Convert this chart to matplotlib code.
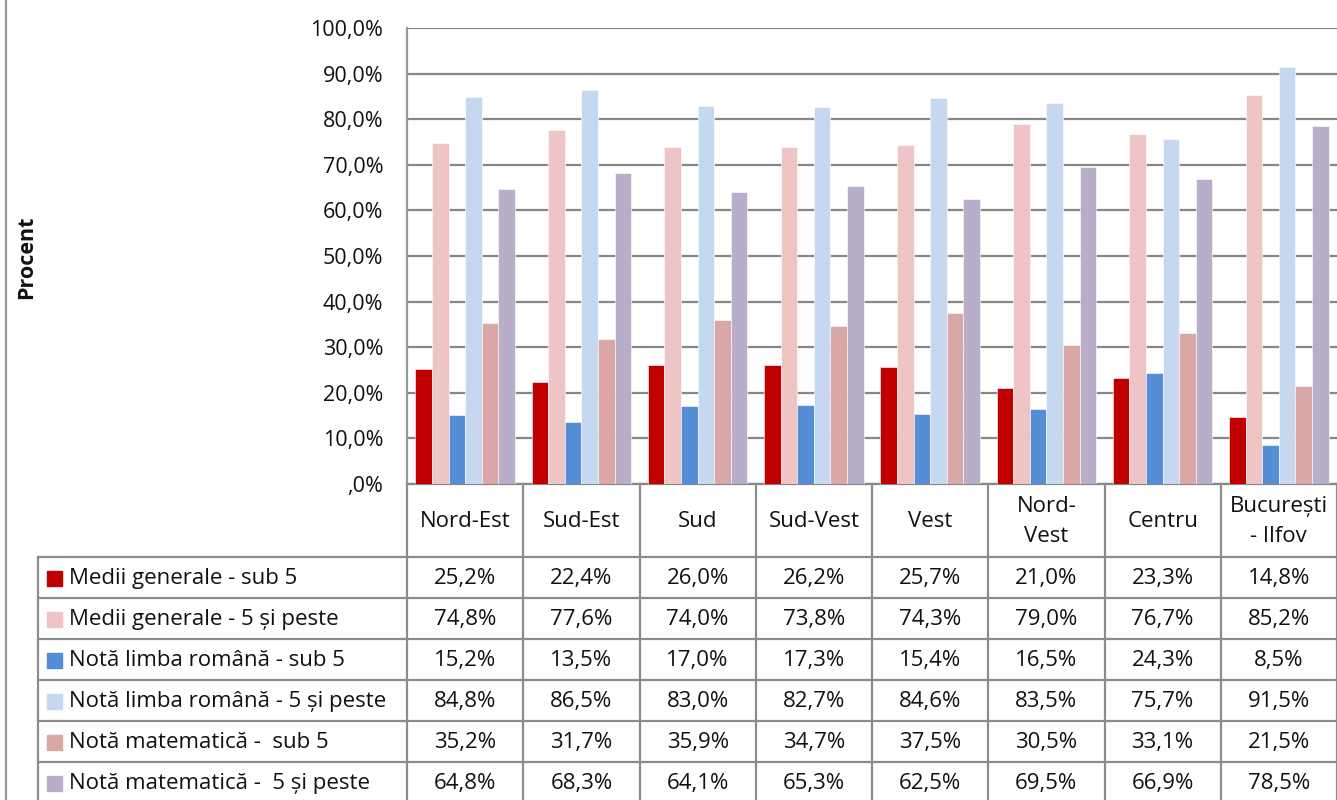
import matplotlib
matplotlib.use("Agg")
import matplotlib.pyplot as plt
from matplotlib.lines import Line2D
from matplotlib.patches import Rectangle
import numpy as np

plt.rcParams['font.family'] = ['Open Sans', 'DejaVu Sans']

categories = ["Nord-Est", "Sud-Est", "Sud", "Sud-Vest", "Vest", "Nord-\nVest", "Centru", "București\n- Ilfov"]
series_names = ["Medii generale - sub 5", "Medii generale - 5 și peste",
                "Notă limba română - sub 5", "Notă limba română - 5 și peste",
                "Notă matematică -  sub 5", "Notă matematică -  5 și peste"]
medii_sub5 = [25.2, 22.4, 26.0, 26.2, 25.7, 21.0, 23.3, 14.8]
medii_peste5 = [74.8, 77.6, 74.0, 73.8, 74.3, 79.0, 76.7, 85.2]
romana_sub5 = [15.2, 13.5, 17.0, 17.3, 15.4, 16.5, 24.3, 8.5]
romana_peste5 = [84.8, 86.5, 83.0, 82.7, 84.6, 83.5, 75.7, 91.5]
mate_sub5 = [35.2, 31.7, 35.9, 34.7, 37.5, 30.5, 33.1, 21.5]
mate_peste5 = [64.8, 68.3, 64.1, 65.3, 62.5, 69.5, 66.9, 78.5]
yticks = [0, 10, 20, 30, 40, 50, 60, 70, 80, 90, 100]
ytick_labels = [",0%", "10,0%", "20,0%", "30,0%", "40,0%", "50,0%", "60,0%", "70,0%", "80,0%", "90,0%", "100,0%"]
colors = ["#C00000", "#EFC4C4", "#558ED5", "#C5D8EF", "#DAA7A7", "#B8AECA"]

series = [medii_sub5, medii_peste5, romana_sub5, romana_peste5, mate_sub5, mate_peste5]

W, H = 1337, 800
fig = plt.figure(figsize=(W / 100, H / 100), dpi=100)
FS = 16

# pixel layout
px_left, px_right, px_top, px_bottom = 407, 1337, 28, 484
ax = fig.add_axes([px_left / W, 1 - px_bottom / H, (px_right - px_left) / W, (px_bottom - px_top) / H])

n = len(categories)
x = np.arange(n)
bw = 1 / 7
for i, (vals, c) in enumerate(zip(series, colors)):
    ax.bar(x + (i - 2.5) * bw, vals, width=bw, color=c, edgecolor='white', linewidth=0.4, zorder=3)

ax.set_xlim(-0.5, n - 0.5)
ax.set_ylim(0, 100)
ax.set_yticks(yticks)
ax.set_yticklabels(ytick_labels, fontsize=15.5, color='#111111')
ax.set_xticks([])
ax.tick_params(axis='y', length=0, pad=17)
ax.yaxis.grid(True, color='#878787', linewidth=1.6, zorder=0)
for s in ['top', 'right']:
    ax.spines[s].set_visible(False)
ax.spines['left'].set_color('#999999')
ax.spines['left'].set_linewidth(1.6)
ax.spines['bottom'].set_color('#878787')
ax.spines['bottom'].set_linewidth(1.6)

# overlay in pixel coords for the data table
ov = fig.add_axes([0, 0, 1, 1], zorder=5)
ov.set_xlim(0, W)
ov.set_ylim(H, 0)
ov.axis('off')
ov.patch.set_alpha(0)

lc = '#8c8c8c'
lw = 1.6
col_w = (px_right - px_left) / n
header_bottom = 557
row_h = 41
nrows = len(series)

# outer chart border at left
ov.add_line(Line2D([6, 6], [0, H], color='#999999', lw=1.6))

# vertical lines
for k in range(n + 1):
    xx = px_left + k * col_w
    ov.add_line(Line2D([xx, xx], [px_bottom, H], color=lc, lw=lw))
ov.add_line(Line2D([38, 38], [header_bottom, H], color=lc, lw=lw))
# horizontal lines
for r in range(nrows + 1):
    yy = header_bottom + r * row_h
    ov.add_line(Line2D([38, px_right], [yy, yy], color=lc, lw=lw))

# header text
for k, cat in enumerate(categories):
    cx = px_left + (k + 0.5) * col_w
    ov.text(cx, (px_bottom + header_bottom) / 2 + 1, cat, ha='center', va='center',
            fontsize=FS, color='#111111', linespacing=1.55)

# rows
for r, (name, vals, c) in enumerate(zip(series_names, series, colors)):
    cy = header_bottom + (r + 0.5) * row_h + 1
    ov.add_patch(Rectangle((47, cy - 8), 15, 15, color=c))
    ov.text(69, cy, name, ha='left', va='center', fontsize=FS, color='#111111')
    for k, v in enumerate(vals):
        cx = px_left + (k + 0.5) * col_w
        ov.text(cx, cy, f"{v:.1f}%".replace('.', ','), ha='center', va='center',
                fontsize=FS, color='#111111')

# y label
ov.text(27, 257, "Procent", rotation=90, ha='center', va='center', fontsize=15.5,
        fontweight='bold', color='#111111')

fig.savefig("out.png", dpi=100)
